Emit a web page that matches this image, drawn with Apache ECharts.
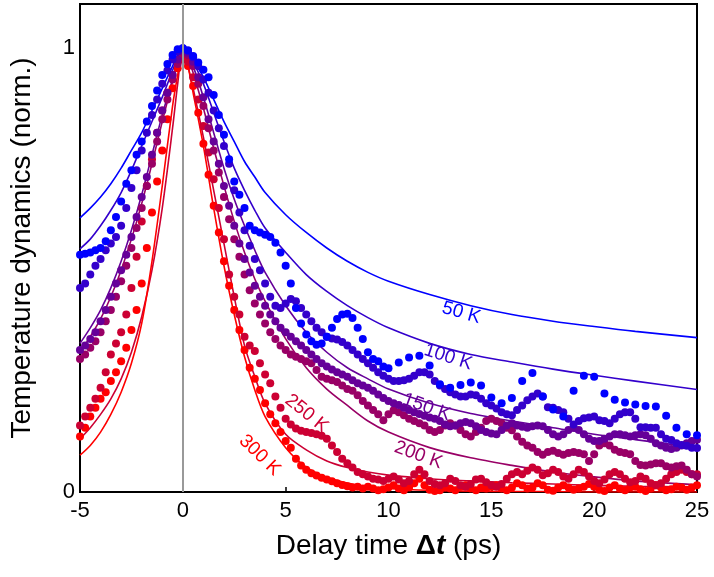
<!DOCTYPE html>
<html>
<head>
<meta charset="utf-8">
<script src="https://cdn.jsdelivr.net/npm/echarts@6/dist/echarts.min.js"></script>
<style>
  html, body { margin: 0; padding: 0; background: #fff; }
  #chart { width: 714px; height: 577px; }
</style>
</head>
<body>
<div id="chart"></div>
<script>
// temperatures, one series of dots + one fit line each
const temps = ['50 K', '100 K', '150 K', '200 K', '250 K', '300 K']

// delay times (ps) of the 50 K dots
const timeBlue = [
  -5, -4.75, -4.5, -4.25, -4, -3.75, -3.5, -3.25, -3, -2.75,
  -2.5, -2.25, -2, -1.75, -1.5, -1.25, -1, -0.75, -0.5, -0.25,
  0, 0.25, 0.5, 0.75, 1, 1.25, 1.5, 1.75, 2, 2.25,
  2.5, 2.75, 3, 3.25, 3.5, 3.75, 4, 4.25, 4.5, 4.75,
  5, 5.25, 5.5, 5.75, 6, 6.25, 6.5, 6.75, 7, 7.25,
  7.5, 7.75, 8, 8.25, 8.5, 8.75, 9, 9.25, 9.5, 9.75,
  10,
  10.5, 11, 11.5, 12, 12.5, 13, 13.5, 14, 14.5, 15,
  15.5, 16, 16.5, 17, 17.5, 18, 18.5, 19, 19.5, 20,
  20.5, 21, 21.5, 22, 22.5, 23, 23.5, 24, 24.5, 25
]

// delay times (ps) of the other dot series
const timeFine = [
  -5, -4.75, -4.5, -4.25, -4, -3.75, -3.5, -3.25, -3, -2.75,
  -2.5, -2.25, -2, -1.75, -1.5, -1.25, -1, -0.75, -0.5, -0.25,
  0, 0.25, 0.5, 0.75, 1, 1.25, 1.5, 1.75, 2, 2.25,
  2.5, 2.75, 3, 3.25, 3.5, 3.75, 4, 4.25, 4.5, 4.75,
  5, 5.25, 5.5, 5.75, 6, 6.25, 6.5, 6.75, 7, 7.25,
  7.5, 7.75, 8, 8.25, 8.5, 8.75, 9, 9.25, 9.5, 9.75,
  10, 10.25, 10.5, 10.75, 11, 11.25, 11.5, 11.75, 12, 12.25,
  12.5, 12.75, 13, 13.25, 13.5, 13.75, 14, 14.25, 14.5, 14.75,
  15, 15.25, 15.5, 15.75, 16, 16.25, 16.5, 16.75, 17, 17.25,
  17.5, 17.75, 18, 18.25, 18.5, 18.75, 19, 19.25, 19.5, 19.75,
  20, 20.25, 20.5, 20.75, 21, 21.25, 21.5, 21.75, 22, 22.25,
  22.5, 22.75, 23, 23.25, 23.5, 23.75, 24, 24.25, 24.5, 24.75,
  25
]

const dots50 = [
  0.535, 0.537, 0.54, 0.545, 0.55, 0.565, 0.59, 0.62, 0.655, 0.695,
  0.725, 0.76, 0.79, 0.835, 0.87, 0.905, 0.94, 0.965, 0.985, 0.998,
  1.0, 0.995, 0.983, 0.968, 0.952, 0.935, 0.895, 0.85, 0.805, 0.75,
  0.70, 0.67, 0.64, 0.60, 0.59, 0.585, 0.58, 0.575, 0.562, 0.54,
  0.51, 0.47, 0.415, 0.38, 0.355, 0.34, 0.332, 0.335, 0.35, 0.37,
  0.39, 0.40, 0.402, 0.392, 0.37, 0.345, 0.315, 0.30, 0.295, 0.283,
  0.279,
  0.292, 0.303, 0.307, 0.285, 0.243, 0.235, 0.241, 0.247, 0.24, 0.213,
  0.2, 0.212, 0.25, 0.268, 0.215, 0.186, 0.17, 0.228, 0.262, 0.26,
  0.222, 0.208, 0.202, 0.197, 0.194, 0.193, 0.172, 0.145, 0.13, 0.128
]

const dots100 = [
  0.46, 0.47, 0.49, 0.51, 0.525, 0.545, 0.56, 0.575, 0.60, 0.64,
  0.685, 0.725, 0.77, 0.81, 0.85, 0.885, 0.92, 0.95, 0.975, 0.993,
  1.0, 0.995, 0.98, 0.96, 0.93, 0.9, 0.86, 0.82, 0.78, 0.74,
  0.68, 0.63, 0.59, 0.555, 0.525, 0.50, 0.47, 0.44, 0.42, 0.415,
  0.425, 0.435, 0.43, 0.415, 0.40, 0.385, 0.37, 0.36, 0.35, 0.346,
  0.344, 0.338, 0.33, 0.32, 0.31, 0.30, 0.29, 0.28, 0.27, 0.262,
  0.255, 0.25, 0.25, 0.252, 0.255, 0.262, 0.27, 0.27, 0.265, 0.25,
  0.24, 0.232, 0.225, 0.22, 0.215, 0.215, 0.22, 0.218, 0.21, 0.2,
  0.195, 0.188, 0.18, 0.175, 0.173, 0.185, 0.195, 0.207, 0.215, 0.222,
  0.215, 0.191, 0.19, 0.185, 0.18, 0.165, 0.152, 0.16, 0.166, 0.168,
  0.17, 0.162, 0.16, 0.155, 0.165, 0.175, 0.18, 0.18, 0.165, 0.146,
  0.146, 0.145, 0.145, 0.13, 0.12, 0.117, 0.11, 0.106, 0.104, 0.1,
  0.099
]

const dots150 = [
  0.32, 0.33, 0.345, 0.36, 0.385, 0.41, 0.44, 0.47, 0.50, 0.535,
  0.575, 0.62, 0.665, 0.71, 0.76, 0.81, 0.86, 0.9, 0.94, 0.975,
  0.995, 0.99, 0.97, 0.935, 0.89, 0.84, 0.79, 0.74, 0.69, 0.645,
  0.60, 0.56, 0.525, 0.495, 0.465, 0.44, 0.42, 0.40, 0.385, 0.37,
  0.36, 0.35, 0.34, 0.33, 0.32, 0.31, 0.30, 0.29, 0.283, 0.276,
  0.27, 0.265, 0.26, 0.252, 0.245, 0.24, 0.235, 0.228, 0.22, 0.212,
  0.205, 0.2, 0.196, 0.19, 0.185, 0.18, 0.176, 0.172, 0.168, 0.165,
  0.16, 0.152, 0.148, 0.15, 0.155, 0.158, 0.155, 0.148, 0.14, 0.135,
  0.132, 0.13, 0.14, 0.15, 0.155, 0.15, 0.147, 0.145, 0.148, 0.15,
  0.148, 0.14, 0.13, 0.125, 0.13, 0.14, 0.145, 0.14, 0.13, 0.12,
  0.115, 0.115, 0.12, 0.125, 0.13, 0.13, 0.128, 0.125, 0.128, 0.13,
  0.128, 0.12, 0.11, 0.105, 0.1, 0.097, 0.1, 0.105, 0.11, 0.115,
  0.118
]

const dots200 = [
  0.30, 0.31, 0.325, 0.34, 0.36, 0.385, 0.41, 0.44, 0.475, 0.51,
  0.55, 0.595, 0.64, 0.69, 0.74, 0.79, 0.84, 0.885, 0.93, 0.965,
  0.99, 0.985, 0.96, 0.92, 0.87, 0.82, 0.77, 0.72, 0.665, 0.615,
  0.57, 0.53, 0.49, 0.455, 0.425, 0.40, 0.38, 0.36, 0.345, 0.33,
  0.32, 0.31, 0.305, 0.30, 0.295, 0.29, 0.275, 0.26, 0.255, 0.252,
  0.248, 0.24, 0.232, 0.228, 0.218, 0.205, 0.195, 0.185, 0.175, 0.162,
  0.175, 0.184, 0.18, 0.173, 0.165, 0.16, 0.155, 0.15, 0.14, 0.135,
  0.14, 0.15, 0.155, 0.15, 0.14, 0.13, 0.125, 0.135, 0.145, 0.16,
  0.165, 0.16, 0.155, 0.145, 0.139, 0.125, 0.113, 0.105, 0.1, 0.09,
  0.084, 0.09, 0.093, 0.088, 0.084, 0.088, 0.09, 0.088, 0.085, 0.07,
  0.085, 0.105, 0.11, 0.105, 0.095, 0.09, 0.088, 0.085, 0.07, 0.061,
  0.06, 0.062, 0.065, 0.065, 0.058, 0.055, 0.058, 0.06, 0.05, 0.04,
  0.035
]

const dots250 = [
  0.15, 0.17, 0.19, 0.21, 0.235, 0.27, 0.31, 0.335, 0.36, 0.40,
  0.46, 0.53, 0.61, 0.69, 0.75, 0.81, 0.86, 0.9, 0.94, 0.97,
  0.985, 0.97, 0.935, 0.885, 0.825, 0.765, 0.705, 0.64, 0.57, 0.49,
  0.44, 0.40, 0.35, 0.33, 0.318, 0.29, 0.265, 0.245, 0.215, 0.19,
  0.165, 0.152, 0.143, 0.138, 0.135, 0.133, 0.13, 0.127, 0.12, 0.105,
  0.09, 0.075, 0.065, 0.055, 0.045, 0.04, 0.035, 0.03, 0.028, 0.025,
  0.03, 0.035, 0.028, 0.02, 0.025, 0.04, 0.05, 0.04, 0.025, 0.018,
  0.015, 0.02, 0.03, 0.025, 0.015, 0.012, 0.018, 0.028, 0.03, 0.022,
  0.015, 0.012, 0.018, 0.03, 0.04, 0.045, 0.04, 0.048, 0.055, 0.05,
  0.038, 0.042, 0.05, 0.045, 0.035, 0.03, 0.04, 0.05, 0.045, 0.035,
  0.025, 0.02, 0.028, 0.04, 0.045, 0.04, 0.03, 0.022, 0.025, 0.035,
  0.03, 0.02, 0.015, 0.02, 0.03, 0.04, 0.045, 0.05, 0.045, 0.04,
  0.04
]

const dots300 = [
  0.125, 0.145, 0.17, 0.19, 0.21, 0.225, 0.25, 0.27, 0.295, 0.325,
  0.365, 0.41, 0.47, 0.55, 0.63, 0.70, 0.77, 0.84, 0.91, 0.955,
  0.975, 0.96, 0.915, 0.855, 0.785, 0.715, 0.645, 0.585, 0.52, 0.465,
  0.41, 0.365, 0.32, 0.28, 0.255, 0.23, 0.2, 0.175, 0.155, 0.135,
  0.115, 0.1, 0.075, 0.06, 0.05, 0.042, 0.037, 0.032, 0.028, 0.024,
  0.02, 0.016, 0.013, 0.01, 0.012, 0.008, 0.012, 0.008, 0.004, 0.006,
  0.01, 0.015, 0.008, 0.004, 0.01, 0.02, 0.03, 0.015, 0.005, 0.002,
  0.004, 0.01, 0.008, 0.004, 0.012, 0.015, 0.008, 0.004, 0.01, 0.008,
  0.012, 0.015, 0.008, 0.004, 0.01, 0.02, 0.015, 0.008, 0.01, 0.02,
  0.015, 0.005, 0.003, 0.01, 0.015, 0.01, 0.005, 0.008, 0.012, 0.018,
  0.012, 0.005, 0.002, 0.01, 0.015, 0.008, 0.004, 0.01, 0.012, 0.006,
  0.002, 0.008, 0.015, 0.01, 0.004, 0.006, 0.012, 0.01, 0.005, 0.01,
  0.015
]

// fit curves
const fitTime = [
  -5, -4.5, -4, -3.5, -3, -2.5, -2, -1.5, -1, -0.5,
  -0.25, 0, 0.25, 0.5, 1, 1.5, 2, 2.5, 3, 3.5,
  4, 5, 6, 7, 8, 9, 10, 12, 14, 16,
  18, 20, 22, 25
]
const fit50 = [
  0.618, 0.64, 0.665, 0.695, 0.73, 0.77, 0.81, 0.86, 0.91, 0.96,
  0.985, 1.0, 0.99, 0.975, 0.935, 0.885, 0.835, 0.79, 0.745, 0.71,
  0.675, 0.625, 0.585, 0.55, 0.52, 0.495, 0.475, 0.445, 0.42, 0.40,
  0.385, 0.373, 0.362, 0.348
]
const fit100 = [
  0.548, 0.57, 0.60, 0.635, 0.675, 0.725, 0.78, 0.835, 0.89, 0.95,
  0.98, 1.0, 0.99, 0.97, 0.92, 0.855, 0.79, 0.73, 0.68, 0.635,
  0.595, 0.54, 0.49, 0.452, 0.42, 0.393, 0.37, 0.335, 0.31, 0.293,
  0.277, 0.263, 0.25, 0.231
]
const fit150 = [
  0.335, 0.37, 0.41, 0.46, 0.52, 0.59, 0.67, 0.76, 0.85, 0.93,
  0.97, 1.0, 0.985, 0.96, 0.89, 0.81, 0.73, 0.66, 0.60, 0.545,
  0.495, 0.42, 0.36, 0.315, 0.28, 0.255, 0.232, 0.2, 0.177, 0.16,
  0.145, 0.13, 0.118, 0.10
]
const fit200 = [
  0.315, 0.35, 0.39, 0.44, 0.5, 0.57, 0.65, 0.74, 0.835, 0.925,
  0.965, 1.0, 0.98, 0.945, 0.865, 0.775, 0.69, 0.61, 0.54, 0.48,
  0.43, 0.345, 0.28, 0.232, 0.195, 0.16, 0.135, 0.1, 0.077, 0.06,
  0.045, 0.034, 0.025, 0.016
]
const fit250 = [
  0.12, 0.145, 0.175, 0.21, 0.255, 0.315, 0.395, 0.5, 0.64, 0.82,
  0.92, 1.0, 0.96, 0.91, 0.8, 0.68, 0.56, 0.44, 0.33, 0.26,
  0.2, 0.13, 0.095, 0.07, 0.055, 0.045, 0.038, 0.03, 0.025, 0.021,
  0.018, 0.015, 0.013, 0.011
]
const fit300 = [
  0.083, 0.105, 0.135, 0.175, 0.225, 0.29, 0.38, 0.52, 0.69, 0.87,
  0.94, 1.0, 0.96, 0.9, 0.78, 0.64, 0.51, 0.4, 0.305, 0.23,
  0.17, 0.1, 0.056, 0.033, 0.02, 0.012, 0.008, 0.004, 0.002, 0.001,
  0.001, 0, 0, 0
]

const xTicks = [-5, 0, 5, 10, 15, 20, 25]
const yTicks = [0, 1]

const colors = ['#0000ff', '#3300cc', '#660099', '#990066', '#cc0033', '#ff0000']
const dotSets = [
  [timeBlue, dots50], [timeFine, dots100], [timeFine, dots150],
  [timeFine, dots200], [timeFine, dots250], [timeFine, dots300]
]
const fitSets = [fit50, fit100, fit150, fit200, fit250, fit300]

// where the temperature labels sit (data units) and their slant (deg)
const labelPos = [
  [13.54, 0.404, -16], [12.9, 0.304, -18], [11.85, 0.191, -20],
  [11.45, 0.083, -20], [6.02, 0.177, -39], [3.74, 0.083, -44]
]

const font = 'Liberation Sans, Arial, sans-serif'
const zip = (xs, ys) => ys.map((v, i) => [xs[i], v])

const series = []
fitSets.forEach((f, i) => {
  series.push({
    name: temps[i] + ' fit',
    type: 'line',
    data: zip(fitTime, f),
    smooth: 0.3,
    showSymbol: false,
    lineStyle: { color: colors[i], width: 1.6 },
    z: 2,
    silent: true
  })
})
// red first so blue ends on top
for (let i = 5; i >= 0; i--) {
  series.push({
    name: temps[i],
    type: 'scatter',
    data: zip(dotSets[i][0], dotSets[i][1]),
    symbolSize: 8,
    itemStyle: { color: colors[i], opacity: 1 },
    z: 3
  })
}
// vertical marker at zero delay
series[0].markLine = {
  silent: true,
  symbol: 'none',
  label: { show: false },
  lineStyle: { color: '#999', width: 2, type: 'solid' },
  data: [{ xAxis: 0 }]
}

const chart = echarts.init(document.getElementById('chart'))
chart.setOption({
  animation: false,
  backgroundColor: '#fff',
  grid: {
    left: 78, right: 17, top: 4, bottom: 85,
    show: true, borderColor: '#000', borderWidth: 2
  },
  xAxis: {
    type: 'value',
    min: -5, max: 25, interval: 5,
    name: '{n|Delay time }{d|Δ}{t|t}{n| (ps)}',
    nameLocation: 'middle',
    nameGap: 40,
    nameTextStyle: {
      rich: {
        n: { fontFamily: font, fontSize: 28, color: '#000' },
        d: { fontFamily: font, fontSize: 28, color: '#000', fontWeight: 'bold' },
        t: { fontFamily: font, fontSize: 28, color: '#000', fontWeight: 'bold', fontStyle: 'italic' }
      }
    },
    axisLine: { lineStyle: { color: '#000', width: 2 } },
    axisTick: { inside: true, length: 5, lineStyle: { color: '#000', width: 1.5 } },
    axisLabel: {
      fontFamily: font, fontSize: 22, color: '#000', margin: 8,
      formatter: v => xTicks.includes(v) ? String(v) : ''
    },
    splitLine: { show: false }
  },
  yAxis: {
    type: 'value',
    min: 0, max: 1.1, interval: 1,
    name: 'Temperature dynamics (norm.)',
    nameLocation: 'middle',
    nameGap: 44,
    nameTextStyle: { fontFamily: font, fontSize: 28, color: '#000' },
    axisLine: { show: true, lineStyle: { color: '#000', width: 2 } },
    axisTick: { show: true, inside: true, length: 5, lineStyle: { color: '#000', width: 1.5 } },
    axisLabel: {
      fontFamily: font, fontSize: 22, color: '#000', margin: 5,
      formatter: v => yTicks.includes(v) ? String(v) : ''
    },
    splitLine: { show: false }
  },
  series: series
})

// temperature labels placed through the axes
const graphics = labelPos.map((p, i) => {
  const px = chart.convertToPixel({ xAxisIndex: 0, yAxisIndex: 0 }, [p[0], p[1]])
  return {
    type: 'text',
    x: px[0], y: px[1],
    rotation: p[2] * Math.PI / 180,
    z: 10,
    style: {
      text: temps[i],
      fill: colors[i],
      font: '19px ' + font,
      align: 'center',
      verticalAlign: 'middle'
    }
  }
})
chart.setOption({ graphic: graphics })
</script>
</body>
</html>
